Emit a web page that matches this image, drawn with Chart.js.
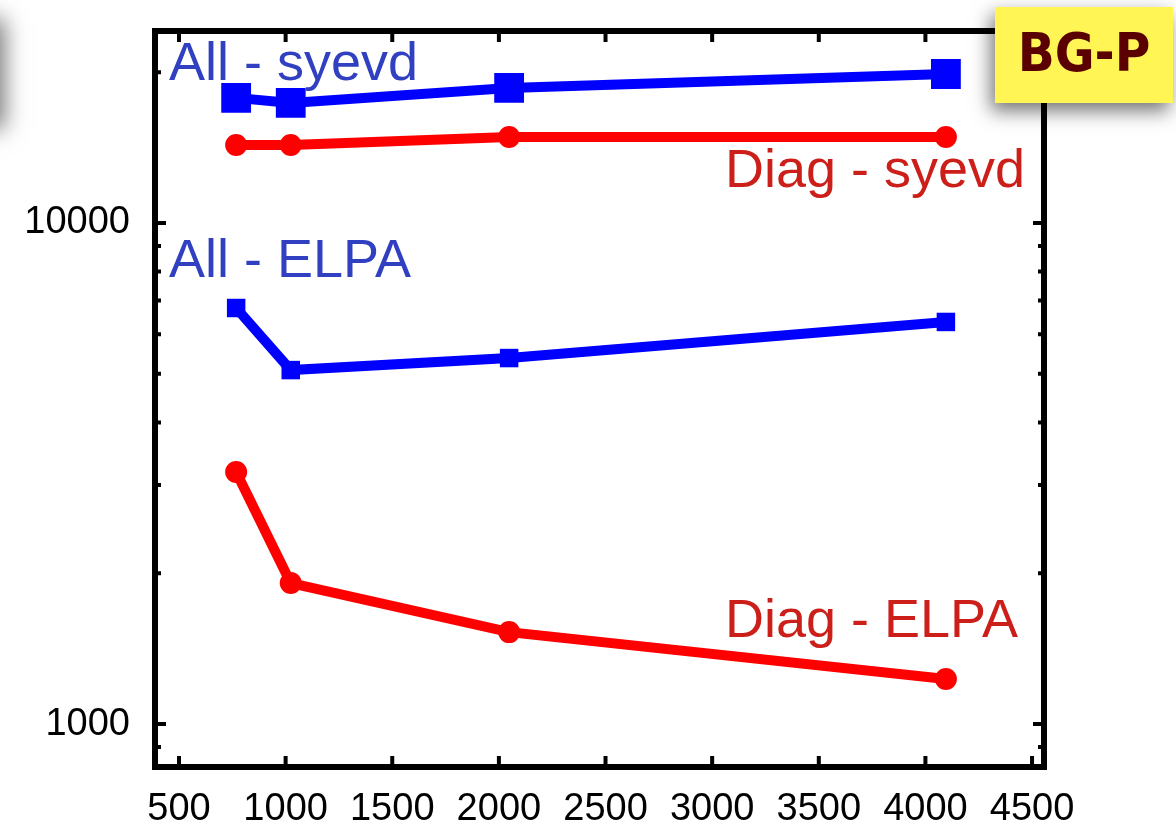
<!DOCTYPE html>
<html>
<head>
<meta charset="utf-8">
<style>
  html, body { margin: 0; padding: 0; background: #fff; }
  canvas { display: block; }
</style>
<script src="https://cdn.jsdelivr.net/npm/chart.js@4.4.1/dist/chart.umd.min.js"></script>
</head>
<body>
<canvas id="timeChart" width="1176" height="827"></canvas>
<script>
// matrix size / number of cores on the x axis
var xValues = [768, 1024, 2048, 4096];
// times (log scale)
var allSyevd = [17770, 17360, 18600, 19830];
var diagSyevd = [14310, 14310, 14840, 14840];
var allElpa = [6766, 5087, 5376, 6346];
var diagElpa = [3184, 1912, 1526, 1230];

var xTicks = [500, 1000, 1500, 2000, 2500, 3000, 3500, 4000, 4500];
var yTicks = [1000, 10000];
var yMinorTicks = [900, 2000, 3000, 4000, 5000, 6000, 7000, 8000, 9000, 20000];

function pts(arr) {
    return arr.map(function (v, i) { return { x: xValues[i], y: v }; });
}

var labelFont = '"Liberation Sans", Arial, sans-serif';

// frame with inward ticks on all four sides, plus the curve labels and the BG-P box
var framePlugin = {
    id: 'frame',
    afterDraw: function (chart) {
        var c = chart.ctx, a = chart.chartArea;
        var xs = chart.scales.x, ys = chart.scales.y;
        c.save();
        c.strokeStyle = '#000';
        c.lineWidth = 4;
        xTicks.forEach(function (v) {
            var px = xs.getPixelForValue(v);
            c.beginPath();
            c.moveTo(px, a.bottom); c.lineTo(px, a.bottom - 11);
            c.moveTo(px, a.top); c.lineTo(px, a.top + 11);
            c.stroke();
        });
        yTicks.forEach(function (v) {
            var py = ys.getPixelForValue(v);
            c.beginPath();
            c.moveTo(a.left, py); c.lineTo(a.left + 11, py);
            c.moveTo(a.right, py); c.lineTo(a.right - 11, py);
            c.stroke();
        });
        yMinorTicks.forEach(function (v) {
            var py = ys.getPixelForValue(v);
            c.beginPath();
            c.moveTo(a.left, py); c.lineTo(a.left + 6, py);
            c.moveTo(a.right, py); c.lineTo(a.right - 6, py);
            c.stroke();
        });
        c.lineWidth = 6;
        c.strokeRect(a.left, a.top, a.right - a.left, a.bottom - a.top);

        // curve labels
        c.font = '54px ' + labelFont;
        c.textBaseline = 'alphabetic';
        c.textAlign = 'left';
        c.fillStyle = '#3040c0';
        c.fillText('All - syevd', 169, 80);
        c.fillText('All - ELPA', 169, 277);
        c.fillStyle = '#cc1f1a';
        c.fillText('Diag - syevd', 725, 187);
        c.fillText('Diag - ELPA', 725, 637);

        // BG-P sticker
        c.save();
        c.shadowColor = 'rgba(0,0,0,0.55)';
        c.shadowBlur = 18;
        c.shadowOffsetX = -4;
        c.shadowOffsetY = 8;
        c.fillStyle = '#fff655';
        c.fillRect(995, 7, 178, 96);
        c.restore();
        c.fillStyle = '#5a0000';
        c.font = 'bold 54px "DejaVu Sans Condensed", "DejaVu Sans", sans-serif';
        c.textAlign = 'center';
        c.textBaseline = 'middle';
        c.fillText('BG-P', 1084, 57);

        // shadow of a box cut off at the left edge
        c.save();
        c.shadowColor = 'rgba(0,0,0,0.55)';
        c.shadowBlur = 22;
        c.shadowOffsetX = 4;
        c.shadowOffsetY = 4;
        c.fillStyle = '#fff';
        c.fillRect(-300, 15, 300, 110);
        c.restore();
        c.restore();
    }
};

var ctx = document.getElementById('timeChart').getContext('2d');
var myChart = new Chart(ctx, {
    type: 'line',
    data: {
        datasets: [{
            label: 'All - syevd',
            data: pts(allSyevd),
            borderColor: '#0000ff',
            backgroundColor: '#0000ff',
            borderWidth: 10,
            pointStyle: 'rect',
            pointRadius: 14,
            pointHoverRadius: 14
        }, {
            label: 'Diag - syevd',
            data: pts(diagSyevd),
            borderColor: '#ff0000',
            backgroundColor: '#ff0000',
            borderWidth: 10,
            pointStyle: 'circle',
            pointRadius: 6,
            pointHoverRadius: 6
        }, {
            label: 'All - ELPA',
            data: pts(allElpa),
            borderColor: '#0000ff',
            backgroundColor: '#0000ff',
            borderWidth: 10,
            pointStyle: 'rect',
            pointRadius: 6,
            pointHoverRadius: 6
        }, {
            label: 'Diag - ELPA',
            data: pts(diagElpa),
            borderColor: '#ff0000',
            backgroundColor: '#ff0000',
            borderWidth: 10,
            pointStyle: 'circle',
            pointRadius: 6,
            pointHoverRadius: 6
        }]
    },
    options: {
        responsive: false,
        animation: false,
        layout: { padding: { top: 31, right: 132, left: 0, bottom: 0 } },
        plugins: {
            legend: { display: false },
            tooltip: { enabled: false }
        },
        elements: { line: { tension: 0 } },
        scales: {
            x: {
                type: 'linear',
                min: 387.5,
                max: 4556,
                grid: { display: false, drawTicks: false },
                border: { display: false },
                afterBuildTicks: function (s) { s.ticks = xTicks.map(function (v) { return { value: v }; }); },
                afterFit: function (s) { s.height = 60; s.paddingLeft = 0; s.paddingRight = 0; },
                ticks: {
                    autoSkip: false,
                    maxRotation: 0,
                    padding: 20,
                    color: '#000',
                    font: { family: labelFont, size: 38 },
                    callback: function (v) { return String(v); }
                }
            },
            y: {
                type: 'logarithmic',
                min: 821,
                max: 24163,
                grid: { display: false, drawTicks: false },
                border: { display: false },
                afterBuildTicks: function (s) { s.ticks = yTicks.map(function (v) { return { value: v }; }); },
                afterFit: function (s) { s.width = 155; s.paddingTop = 0; s.paddingBottom = 0; },
                ticks: {
                    autoSkip: false,
                    padding: 25,
                    color: '#000',
                    font: { family: labelFont, size: 38 },
                    callback: function (v) { return String(v); }
                }
            }
        }
    },
    plugins: [framePlugin]
});
</script>
</body>
</html>
